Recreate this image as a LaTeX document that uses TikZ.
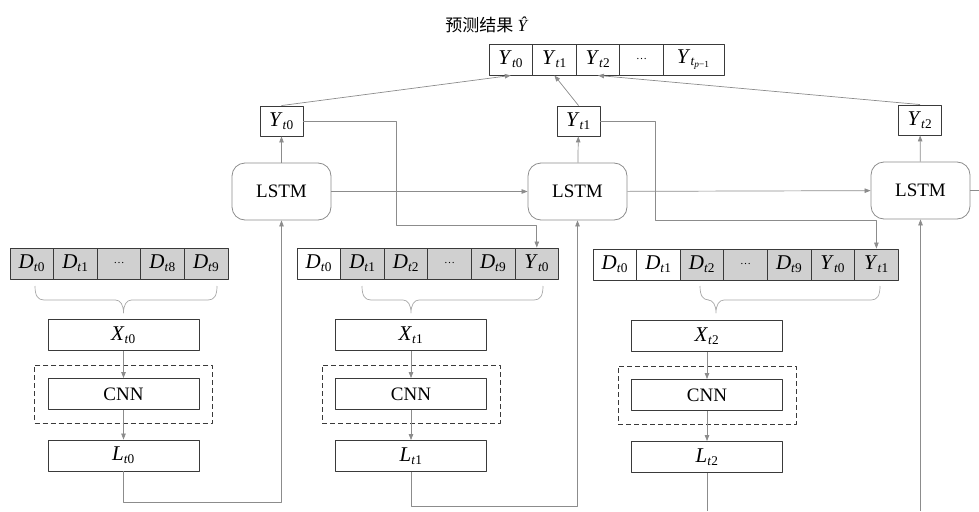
\documentclass[tikz,border=0pt]{standalone}
\usepackage{fontspec}
\setmainfont{Liberation Serif}
\newfontfamily\cjk{Noto Sans CJK SC}
\usetikzlibrary{arrows.meta,fit}
\definecolor{boxc}{HTML}{3A3A3A}
\definecolor{linec}{HTML}{8C8C8C}
\definecolor{cellc}{HTML}{D0D0D0}
\definecolor{bracec}{HTML}{A8A8A8}
% symbol with subscript t
\newcommand\tsub[2]{{\fontsize{21}{24}\selectfont\textit{#1}}\textsubscript{\textit{t}#2}}
\newcommand\celldots{{\fontsize{11}{11}\selectfont …}}
% brace under an input window: left end, tip, right end
\newcommand\curlyb[3]{%
  \draw[brc] (#1,286) .. controls (#1,296) and (#1+3,300) .. (#1+9,300) -- (#2-8,300)
    .. controls (#2-3,300) and (#2,305) .. (#2,313)
    .. controls (#2,305) and (#2+3,300) .. (#2+8,300) -- (#3-9,300)
    .. controls (#3-3,300) and (#3,296) .. (#3,286);}
\tikzset{
  cell/.style={draw=boxc,line width=0.9pt,minimum width=43.6pt,minimum height=31pt,inner sep=0pt},
  ybox/.style={draw=boxc,line width=0.9pt,minimum width=43pt,minimum height=30pt,inner sep=0pt},
  xbox/.style={draw=boxc,line width=0.9pt,minimum width=151pt,minimum height=31pt,inner sep=0pt},
  lstm/.style={draw=linec,line width=0.8pt,rounded corners=13pt,minimum width=99pt,minimum height=57pt},
  dbox/.style={draw=boxc,dashed,line width=0.9pt,dash pattern=on 5pt off 3pt,inner xsep=13pt,inner ysep=13pt},
  conn/.style={draw=linec,line width=0.7pt},
  brc/.style={draw=bracec,line width=0.7pt},
}
\begin{document}
\begin{tikzpicture}[x=1pt,y=-1pt,line join=round,font=\fontsize{19}{22}\selectfont,
    >={Triangle[length=6pt,width=4.5pt]}]
\useasboundingbox (0,0) rectangle (979,511);
% output sequence
\node[font=\fontsize{17}{20}\selectfont] (ttl) at (487,25) {{\cjk 预测结果} \textit{Ŷ}};
\foreach \txt [count=\i from 0] in {\tsub{Y}{0},\tsub{Y}{1},\tsub{Y}{2},\celldots}
  \node[cell] (p\i) at ({489+21.8+43.6*\i},59.5) {\txt};
\node[cell,minimum width=61pt] (p4) at (693.5,59.5) {\tsub{Y}{\textsubscript{\textit{p}−1}}};

% LSTM chain
\node[lstm] (m0) at (281.5,191.5) {LSTM};
\node[lstm] (m1) at (577.5,191.5) {LSTM};
\node[lstm] (m2) at (920.5,190.5) {LSTM};
\node[ybox] (y0) at (281.5,121) {\tsub{Y}{0}};
\node[ybox] (y1) at (578.5,121) {\tsub{Y}{1}};
\node[ybox] (y2) at (920,120) {\tsub{Y}{2}};

% input windows
\foreach \f/\txt [count=\i from 0] in {cellc/\tsub{D}{0},cellc/\tsub{D}{1},cellc/\celldots,cellc/\tsub{D}{8},cellc/\tsub{D}{9}}
  \node[cell,fill=\f] (a\i) at ({10+21.8+43.6*\i},263.5) {\txt};
\foreach \f/\txt [count=\i from 0] in {white/\tsub{D}{0},cellc/\tsub{D}{1},cellc/\tsub{D}{2},cellc/\celldots,cellc/\tsub{D}{9},cellc/\tsub{Y}{0}}
  \node[cell,fill=\f] (b\i) at ({297+21.8+43.6*\i},263.5) {\txt};
\foreach \f/\txt [count=\i from 0] in {white/\tsub{D}{0},white/\tsub{D}{1},cellc/\tsub{D}{2},cellc/\celldots,cellc/\tsub{D}{9},cellc/\tsub{Y}{0},cellc/\tsub{Y}{1}}
  \node[cell,fill=\f] (c\i) at ({593+21.8+43.6*\i},264.5) {\txt};
\curlyb{35}{123.5}{217}
\curlyb{362}{411}{543}
\curlyb{700}{716}{880}

% CNN columns
\node[xbox] (x0) at (123.5,335) {\tsub{X}{0}};
\node[xbox] (cnn0) at (123.5,394) {CNN};
\node[xbox] (l0) at (123.5,455.5) {\tsub{L}{0}};
\node[xbox] (x1) at (411,335) {\tsub{X}{1}};
\node[xbox] (cnn1) at (411,394) {CNN};
\node[xbox] (l1) at (411,456) {\tsub{L}{1}};
\node[xbox] (x2) at (707,336) {\tsub{X}{2}};
\node[xbox] (cnn2) at (707,395) {CNN};
\node[xbox] (l2) at (707,457) {\tsub{L}{2}};
\node[dbox,fit=(cnn0)] (d0) {};
\node[dbox,fit=(cnn1)] (d1) {};
\node[dbox,fit=(cnn2)] (d2) {};

\coordinate (k0) at (396,225);
\coordinate (k1) at (655,220);
\coordinate (e2) at (979,190.5);
\coordinate (in2) at (920.5,511);
\coordinate (out2) at (707,511);

\draw[conn,->] (x0) -- (cnn0);
\draw[conn,->] (cnn0) -- (l0);
\draw[conn,->] (x1) -- (cnn1);
\draw[conn,->] (cnn1) -- (l1);
\draw[conn,->] (x2) -- (cnn2);
\draw[conn,->] (cnn2) -- (l2);
\draw[conn,->] (l0.south) -- ++(0,31) -| (m0.south);
\draw[conn,->] (l1.south) -- ++(0,34.5) -| (m1.south);
\draw[conn] (l2.south) -- (out2);
\draw[conn,->] (in2) -- (m2.south);
\draw[conn,->] (m0) -- (m1);
\draw[conn,->] (m1) -- (m2);
\draw[conn] (m2) -- (e2);
\draw[conn,->] (m0) -- (y0);
\draw[conn,->] (m1) -- (y1);
\draw[conn,->] (m2) -- (y2);
\draw[conn,->] (y0.north) -- (p0.south);
\draw[conn,->] (y1.north) -- (p1.south);
\draw[conn,->] (y2.north) -- (p2.south);
\draw[conn,->] (y0.east) -| (k0) -| (b5.north);
\draw[conn,->] (y1.east) -| (k1) -| (c6.north);
\end{tikzpicture}
\end{document}
